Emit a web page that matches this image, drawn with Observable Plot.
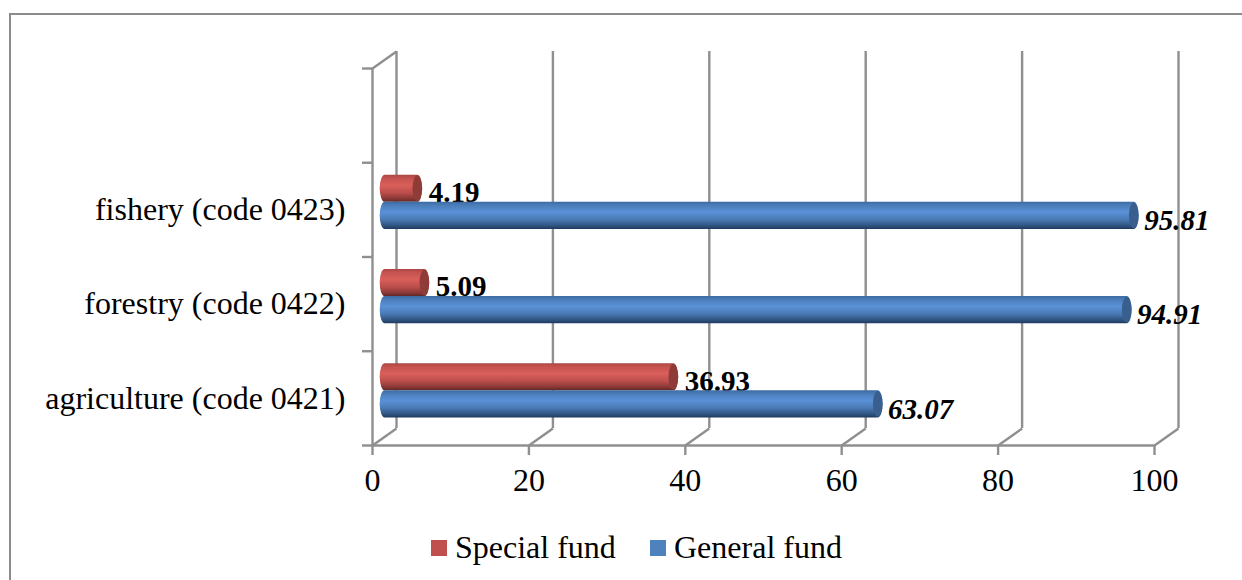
<!DOCTYPE html>
<html>
<head>
<meta charset="utf-8">
<script src="https://cdn.jsdelivr.net/npm/d3@7"></script>
<script src="https://cdn.jsdelivr.net/npm/@observablehq/plot@0.6"></script>
<style>
html,body{margin:0;padding:0;background:#fff;overflow:hidden;}
#wrap{position:relative;width:1242px;height:580px;}
#frame{position:absolute;left:9px;top:13px;width:1240px;height:600px;border:2px solid #8c8c8c;box-sizing:border-box;}
#chart{position:absolute;left:0;top:0;}
#legend{position:absolute;left:0;top:525px;width:1242px;height:55px;font-family:"Liberation Serif",serif;font-size:32px;color:#000;}
.sw{position:absolute;top:15px;width:16px;height:16px;}
.lb{position:absolute;top:5px;line-height:34px;white-space:nowrap;}
</style>
</head>
<body>
<div id="wrap"><div id="frame"></div><div id="chart"></div>
<div id="legend">
<span class="sw" style="left:431px;background:#c0504d"></span><span class="lb" id="l0" style="left:455px"></span>
<span class="sw" style="left:650px;background:#4f81bd"></span><span class="lb" id="l1" style="left:674px"></span>
</div></div>
<script>
const categories = ["agriculture (code 0421)", "forestry (code 0422)", "fishery (code 0423)"];
const specialFund = [36.93, 5.09, 4.19];
const generalFund = [63.07, 94.91, 95.81];
const seriesNames = ["Special fund", "General fund"];
const xTicks = [0, 20, 40, 60, 80, 100];
const slotTicks = [0, 1, 2, 3, 4];

document.getElementById("l0").textContent = seriesNames[0];
document.getElementById("l1").textContent = seriesNames[1];

const depthX = 3.07, depthY = 0.18;   // oblique wall offset, in data units
const barT = 0.287, capW = 0.62;
const serif = "Liberation Serif";
const grey = "#8f8f8f";
const lineW = 2.4;

const rows = categories.map((c, i) => ({c, i, s: specialFund[i], g: generalFund[i]}));
const midX = depthX / 2 + 0.07, midY = depthY / 2 - 0.01;

const defs = () => {
  const svg = d3.create("svg:g");
  const d = svg.append("defs");
  const grad = (id, stops) => {
    const g = d.append("linearGradient").attr("id", id).attr("x1", 0).attr("x2", 0).attr("y1", 0).attr("y2", 1);
    stops.forEach(([o, c]) => g.append("stop").attr("offset", o).attr("stop-color", c));
  };
  grad("cylRed", [[0, "#a94744"], [0.12, "#c4524f"], [0.38, "#da5f5b"], [0.65, "#bd4f4c"], [0.88, "#8a3836"], [1, "#5f2725"]]);
  grad("cylBlue", [[0, "#3c6ba3"], [0.12, "#4a7cb8"], [0.38, "#5a92d8"], [0.65, "#4a7ab5"], [0.88, "#2f5482"], [1, "#1f3a5f"]]);
  return svg.node();
};

const series = (key, yBase, yTop, fill, cap) => [
  Plot.rectX(rows, {
    x1: () => midX - capW, x2: d => d[key] + midX + capW,
    y1: d => d.i + yBase + midY, y2: d => d.i + yTop + midY,
    fill, rx: 5, ry: 13.5
  }),
  Plot.rectX(rows, {
    x1: d => d[key] + midX - capW, x2: d => d[key] + midX + capW,
    y1: d => d.i + yBase + midY + 0.006, y2: d => d.i + yTop + midY - 0.006,
    fill: cap, rx: 5, ry: 13.5
  })
];

const plot = Plot.plot({
  width: 1242, height: 525,
  marginLeft: 372, marginRight: 88, marginTop: 68, marginBottom: 80,
  x: {domain: [0, 100], label: null},
  y: {domain: [0, 4], label: null},
  style: {background: "transparent", overflow: "visible"},
  marks: [
    defs,
    // back wall: gridlines and their floor diagonals
    Plot.ruleX(xTicks, {x: d => d + depthX, y1: depthY, y2: 4 + depthY, stroke: grey, strokeWidth: lineW}),
    Plot.link(xTicks, {x1: d => d, x2: d => d + depthX, y1: 0, y2: depthY, stroke: grey, strokeWidth: lineW}),
    // left wall
    Plot.link([0], {x1: 0, x2: depthX, y1: 4, y2: 4 + depthY, stroke: grey, strokeWidth: lineW}),
    Plot.ruleX([0], {y1: 0, y2: 4, stroke: grey, strokeWidth: lineW}),
    Plot.ruleY([0], {x1: 0, x2: 100, stroke: grey, strokeWidth: lineW}),
    // axes
    Plot.axisX(xTicks, {tickSize: 10, tickPadding: 13, stroke: grey, strokeWidth: lineW, fontSize: 32, fontFamily: serif, fill: "#000", label: null}),
    Plot.axisY(slotTicks, {tickSize: 10, tickFormat: () => "", stroke: grey, strokeWidth: lineW, label: null}),
    Plot.axisY([0.5, 1.5, 2.5], {tickSize: 0, tickPadding: 27, tickFormat: d => categories[Math.floor(d)], fontSize: 32, fontFamily: serif, fill: "#000", label: null}),
    // special fund: bars then labels (the blue bars sit in front of the labels)
    ...series("s", 0.5, 0.5 + barT, "url(#cylRed)", "#8f3c39"),
    Plot.text(rows, {x: d => d.s + midX + capW, y: d => d.i + 0.5 + midY + barT / 2, text: d => d.s.toFixed(2), textAnchor: "start", dx: 6, dy: 4, fontSize: 29, fontWeight: "bold", fontFamily: serif, fill: "#000"}),
    ...series("g", 0.5 - barT, 0.5, "url(#cylBlue)", "#385f8e"),
    Plot.text(rows, {x: d => d.g + midX + capW, y: d => d.i + 0.5 + midY - barT / 2, text: d => d.g.toFixed(2), textAnchor: "start", dx: 5, dy: 5, fontSize: 29, fontWeight: "bold", fontStyle: "italic", fontFamily: serif, fill: "#000"})
  ]
});
document.getElementById("chart").appendChild(plot);
</script>
</body>
</html>
